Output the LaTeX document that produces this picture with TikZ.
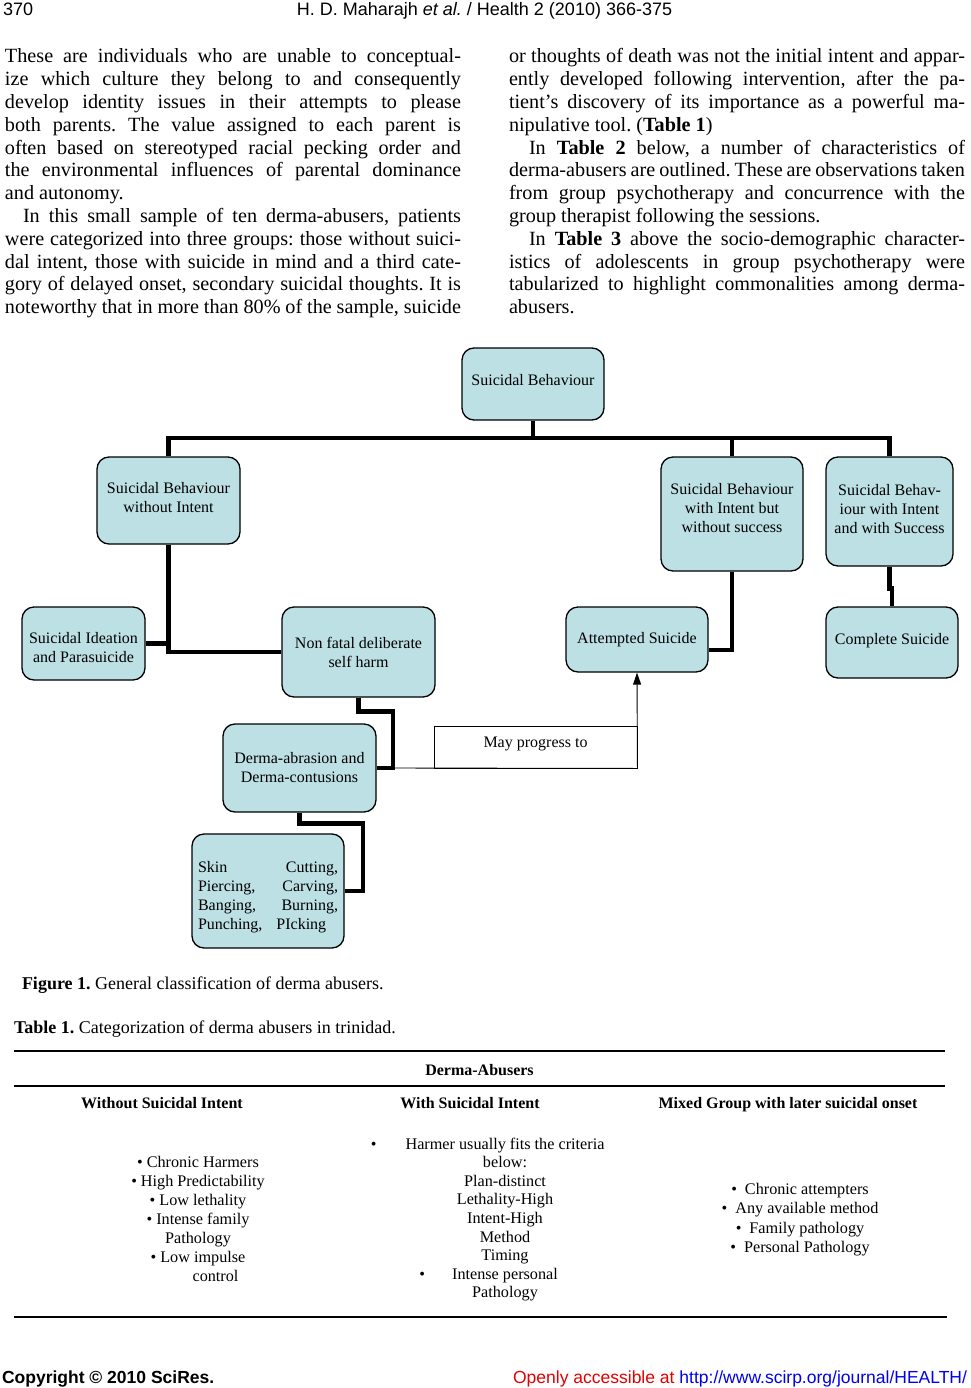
\documentclass[tikz,border=0pt]{standalone}
\usepackage{fontspec}
\setmainfont{Liberation Serif}
\newfontfamily\hdrfont{Liberation Sans}
\usetikzlibrary{arrows.meta,calc}
\definecolor{boxfill}{RGB}{188,224,228}
\definecolor{linkblue}{RGB}{0,0,238}
\definecolor{accred}{RGB}{228,0,0}
\newlength\colw
\newcommand\jl[1]{\hbox to \colw{#1}}
\newcommand\nl[1]{\hbox{#1}}
\newcommand\tcol[2]{\parbox[t]{#1}{\centering #2}}
\frenchspacing
\begin{document}
\begin{tikzpicture}[x=1pt,y=-1pt,
  box/.style={draw=black, line width=1.3pt, rounded corners=12pt, fill=boxfill, inner sep=0pt},
  boxtext/.style={align=center, inner sep=0pt, font=\fontsize{16}{19}\selectfont},
  conn/.style={line width=4.6pt, line join=miter},
  thinln/.style={line width=0.9pt},
  rule/.style={line width=1.2pt},
  txt/.style={inner sep=0pt, outer sep=0pt},
  body/.style={txt, anchor=base west, font=\fontsize{20.2}{22.8}\selectfont\frenchspacing},
  tab/.style={txt, anchor=base, font=\fontsize{16}{19}\selectfont}
]
\fill[white] (0,0) rectangle (970,1388);
\useasboundingbox (0,0) rectangle (970,1388);

% header
\node[txt, anchor=base west, font=\hdrfont\fontsize{18}{20}\selectfont] (pgno) at (3,16) {370};
\node[txt, anchor=base, font=\hdrfont\fontsize{18}{20}\selectfont] (runhead) at (484.5,16) {H. D. Maharajh \textit{et al.} / Health 2 (2010) 366-375};

% body text, left column
\node[body] (colL) at (5,63) {\setlength\colw{456pt}\parbox[t]{456pt}{%
\jl{These are individuals who are unable to conceptual-}%
\jl{ize which culture they belong to and consequently}%
\jl{develop identity issues in their attempts to please}%
\jl{both parents. The value assigned to each parent is}%
\jl{often based on stereotyped racial pecking order and}%
\jl{the environmental influences of parental dominance}%
\nl{and autonomy.}%
\jl{\hspace*{18pt}In this small sample of ten derma-abusers, patients}%
\jl{were categorized into three groups: those without suici-}%
\jl{dal intent, those with suicide in mind and a third cate-}%
\jl{gory of delayed onset, secondary suicidal thoughts. It is}%
\jl{noteworthy that in more than 80\% of the sample, suicide}}};

% body text, right column
\node[body] (colR) at (509,63) {\setlength\colw{456pt}\parbox[t]{456pt}{%
\jl{or thoughts of death was not the initial intent and appar-}%
\jl{ently developed following intervention, after the pa-}%
\jl{tient’s discovery of its importance as a powerful ma-}%
\nl{nipulative tool. (\textbf{Table 1})}%
\jl{\hspace*{20pt}In \textbf{Table 2} below, a number of characteristics of}%
\jl{derma-abusers are outlined. These are observations taken}%
\jl{from group psychotherapy and concurrence with the}%
\nl{group therapist following the sessions.}%
\jl{\hspace*{20pt}In \textbf{Table 3} above the socio-demographic character-}%
\jl{istics of adolescents in group psychotherapy were}%
\jl{tabularized to highlight commonalities among derma-}%
\nl{abusers.}}};

% diagram boxes
\node[box, minimum width=142pt, minimum height=72pt] (top) at (533,384) {};
\node[box, minimum width=143pt, minimum height=87pt] (wo) at (168.5,500.5) {};
\node[box, minimum width=142pt, minimum height=114pt] (wi) at (732,514) {};
\node[box, minimum width=127pt, minimum height=109pt] (ws) at (889.5,511.5) {};
\node[box, minimum width=123pt, minimum height=73pt] (si) at (83.5,643.5) {};
\node[box, minimum width=153pt, minimum height=90pt] (nf) at (358.5,652) {};
\node[box, minimum width=142pt, minimum height=65pt] (as) at (637,639.5) {};
\node[box, minimum width=132pt, minimum height=71pt] (cs) at (892,642.5) {};
\node[box, minimum width=153pt, minimum height=88pt] (da) at (299.5,768) {};
\node[box, minimum width=152pt, minimum height=114pt] (sk) at (268,891) {};
\node[draw=black, thinln, minimum width=203pt, minimum height=42pt, inner sep=0pt] (may) at (535.5,747) {};

% box texts
\node[boxtext] (top-t) at ($(top.center)+(0,-4)$) {Suicidal Behaviour};
\node[boxtext] (wo-t) at ($(wo.center)+(0,-2.5)$) {Suicidal Behaviour\\without Intent};
\node[boxtext] (wi-t) at ($(wi.center)+(0,-5.5)$) {Suicidal Behaviour\\with Intent but\\without success};
\node[boxtext] (ws-t) at ($(ws.center)+(0,-2.5)$) {Suicidal Behav-\\iour with Intent\\and with Success};
\node[boxtext] (si-t) at ($(si.center)+(0,4.5)$) {Suicidal Ideation\\and Parasuicide};
\node[boxtext] (nf-t) at (nf.center) {Non fatal deliberate\\self harm};
\node[boxtext] (as-t) at (as.center) {Attempted Suicide};
\node[boxtext] (cs-t) at ($(cs.center)+(0,-2)$) {Complete Suicide};
\node[boxtext] (da-t) at (da.center) {Derma-abrasion and\\Derma-contusions};
\node[boxtext, align=left] (sk-t) at ($(sk.center)+(0,6)$) {\parbox{140pt}{%
\hbox to 140pt{Skin\hfill Cutting,}%
\hbox to 140pt{Piercing,\hfill Carving,}%
\hbox to 140pt{Banging,\hfill Burning,}%
\hbox{Punching,\hspace{14pt}PIcking}}};
\node[boxtext] (may-t) at ($(may.center)+(0,-3)$) {May progress to};

% junction coordinates
\coordinate (bus) at (533,438);
\coordinate (j1) at (393,768);
\coordinate (j2) at (363,891);

% connectors
\draw[conn] (top.south) -- (bus);
\draw[conn] (wo.north) |- (bus) -| (ws.north);
\draw[conn] (wi.north) -- (wi.north |- bus);
\draw[conn] (wo.south) |- (nf.west);
\draw[conn] (si.east) -- (si.east -| wo.south);
\draw[conn] (wi.south) |- ($(as.east)+(0,10.5)$);
\draw[conn] (ws.south) -- ++(0,22) -| (cs.north);
\draw[conn] (nf.south) -- ++(0,14) -| (j1) -- (da.east);
\draw[conn] (da.south) -- ++(0,11) -| (j2) -- (sk.east);
\draw[thinln, -{Triangle[length=12pt,width=8pt]}] (j1) -- (may.south east) -- (as.south);

% captions
\node[txt, anchor=base west, font=\fontsize{18}{20}\selectfont] (figcap) at (22,989) {\textbf{Figure 1.} General classification of derma abusers.};
\node[txt, anchor=base west, font=\fontsize{18}{20}\selectfont] (tabcap) at (14,1033) {\textbf{Table 1.} Categorization of derma abusers in trinidad.};

% table
\draw[rule] (14,1051) -- (945,1051);
\draw[rule] (14,1086) -- (945,1086);
\draw[rule] (14,1317) -- (947,1317);
\node[tab] (thead) at (479.5,1075) {\textbf{Derma-Abusers}};
\node[tab] (h1) at (162,1108) {\textbf{Without Suicidal Intent}};
\node[tab] (h2) at (470,1108) {\textbf{With Suicidal Intent}};
\node[tab] (h3) at (788,1108) {\textbf{Mixed Group with later suicidal onset}};

\node[tab, font=\fontsize{16.2}{19}\selectfont] (c1) at (198,1167) {\tcol{220pt}{%
\textbullet{} Chronic Harmers\\
\textbullet{} High Predictability\\
\textbullet{} Low lethality\\
\textbullet{} Intense family\\
Pathology\\
\textbullet{} Low impulse\\
\hspace*{35pt}control}};
\node[tab, font=\fontsize{16.2}{18.6}\selectfont] (c2) at (505,1149) {\tcol{260pt}{%
\leavevmode\llap{\textbullet\hspace{29pt}}Harmer usually fits the criteria\\
below:\\
Plan-distinct\\
Lethality-High\\
Intent-High\\
Method\\
Timing\\
\leavevmode\llap{\textbullet\hspace{27pt}}Intense personal\\
Pathology}};
\node[tab, font=\fontsize{16.2}{19.5}\selectfont] (c3) at (800,1194) {\tcol{260pt}{%
\textbullet\hspace{8pt}Chronic attempters\\
\textbullet\hspace{8pt}Any available method\\
\textbullet\hspace{8pt}Family pathology\\
\textbullet\hspace{8pt}Personal Pathology}};

% footer
\node[txt, anchor=base west, font=\hdrfont\bfseries\fontsize{17.5}{20}\selectfont] (copy) at (2,1383) {Copyright © 2010 SciRes.};
\node[txt, anchor=base east, font=\hdrfont\fontsize{17.5}{20}\selectfont] (access) at (967,1383) {\textcolor{accred}{Openly accessible at }\textcolor{linkblue}{\underline{http://www.scirp.org/journal/HEALTH/}}};
\end{tikzpicture}
\end{document}
